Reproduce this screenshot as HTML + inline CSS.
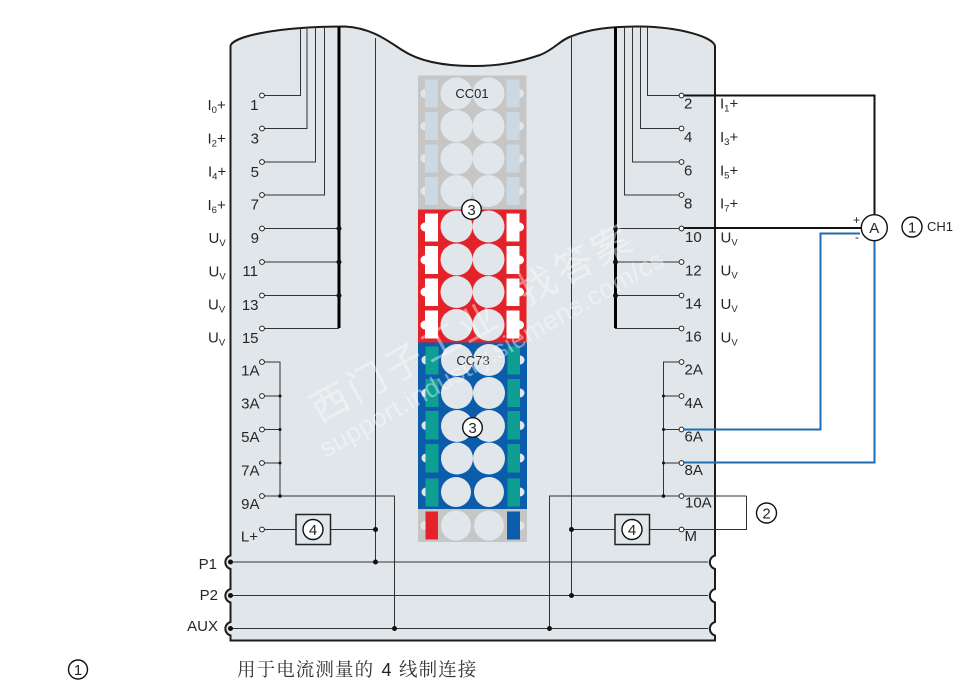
<!DOCTYPE html>
<html><head><meta charset="utf-8"><style>
html,body{margin:0;padding:0;background:#fff}
svg{display:block}
text{font-family:"Liberation Sans","Noto Sans CJK SC",sans-serif;fill:#262626;font-size:15px}
.s{font-size:9.5px}
</style></head><body>
<svg width="967" height="684" viewBox="0 0 967 684" xmlns="http://www.w3.org/2000/svg">
<!-- body -->
<path d="M230.5 46 C232 37 275 26.5 345 26.5 C372 28 388 41 402 50 C420 62 445 66 473 66 C505 66 525 60 540 55 C555 49 560 40 572 36 C590 29 610 26.5 640 26.5 C680 27 713 37 715 46 V555.5 A7 7 0 0 0 715 569 V589 A7 7 0 0 0 715 602.5 V622 A7 7 0 0 0 715 635.5 V640.5 H230.5 V635.5 A7 7 0 0 1 230.5 622 V602.5 A7 7 0 0 1 230.5 589 V569 A7 7 0 0 1 230.5 555.5 Z" fill="#e0e6ea" stroke="#1c1c1c" stroke-width="2"/>

<!-- center module -->
<rect x="418" y="75.5" width="108.500" height="134" fill="#c6c6c6"/>
<rect x="418" y="209.500" width="108.500" height="133" fill="#e3222a"/>
<rect x="418" y="342.500" width="109" height="166.500" fill="#0b5cab"/>
<rect x="418" y="509" width="109" height="33" fill="#c6c6c6"/>
<g fill="#e0e6ea">
<circle cx="425" cy="93.500" r="4.500"/><circle cx="425" cy="126" r="4.500"/><circle cx="425" cy="158.500" r="4.500"/><circle cx="425" cy="191" r="4.500"/>
<circle cx="519.500" cy="93.500" r="4.500"/><circle cx="519.500" cy="126" r="4.500"/><circle cx="519.500" cy="158.500" r="4.500"/><circle cx="519.500" cy="191" r="4.500"/>
<circle cx="425" cy="525.500" r="4.500"/><circle cx="520" cy="525.500" r="4.500"/>
<circle cx="426" cy="360" r="4.500"/><circle cx="426" cy="393" r="4.500"/><circle cx="426" cy="425.500" r="4.500"/><circle cx="426" cy="458" r="4.500"/><circle cx="426" cy="492" r="4.500"/>
<circle cx="520" cy="360" r="4.500"/><circle cx="520" cy="393" r="4.500"/><circle cx="520" cy="425.500" r="4.500"/><circle cx="520" cy="458" r="4.500"/><circle cx="520" cy="492" r="4.500"/>
</g>
<g fill="#fff">
<circle cx="425" cy="227" r="4.500"/><circle cx="425" cy="260" r="4.500"/><circle cx="425" cy="292" r="4.500"/><circle cx="425" cy="325" r="4.500"/>
<circle cx="519.500" cy="227" r="4.500"/><circle cx="519.500" cy="260" r="4.500"/><circle cx="519.500" cy="292" r="4.500"/><circle cx="519.500" cy="325" r="4.500"/>
</g>
<g fill="#ccd8e2">
<rect x="425" y="79.500" width="13" height="28"/><rect x="425" y="112" width="13" height="28"/><rect x="425" y="144.500" width="13" height="28"/><rect x="425" y="177" width="13" height="28"/>
<rect x="506.500" y="79.500" width="13" height="28"/><rect x="506.500" y="112" width="13" height="28"/><rect x="506.500" y="144.500" width="13" height="28"/><rect x="506.500" y="177" width="13" height="28"/>
</g>
<g fill="#fff">
<rect x="425" y="213.500" width="13" height="28"/><rect x="425" y="246" width="13" height="28"/><rect x="425" y="278.500" width="13" height="27.500"/><rect x="425" y="310.500" width="13" height="28"/>
<rect x="506.500" y="213.500" width="13" height="28"/><rect x="506.500" y="246" width="13" height="28"/><rect x="506.500" y="278.500" width="13" height="27.500"/><rect x="506.500" y="310.500" width="13" height="28"/>
</g>
<g fill="#0f9e94">
<rect x="425.500" y="346.500" width="13" height="28"/><rect x="425.500" y="379" width="13" height="28"/><rect x="425.500" y="411" width="13" height="28.500"/><rect x="425.500" y="444" width="13" height="28.500"/><rect x="425.500" y="478.500" width="13" height="28"/>
<rect x="507.500" y="346.500" width="12.500" height="28"/><rect x="507.500" y="379" width="12.500" height="28"/><rect x="507.500" y="411" width="12.500" height="28.500"/><rect x="507.500" y="444" width="12.500" height="28.500"/><rect x="507.500" y="478.500" width="12.500" height="28"/>
</g>
<rect x="425.500" y="511.500" width="12.500" height="28" fill="#e3222a"/>
<rect x="507" y="511.500" width="13" height="28" fill="#0b5cab"/>
<g fill="#e0e6ea">
<circle cx="456.500" cy="93.500" r="16"/><circle cx="488.500" cy="93.500" r="16"/><circle cx="456.500" cy="126" r="16"/><circle cx="488.500" cy="126" r="16"/><circle cx="456.500" cy="158.500" r="16"/><circle cx="488.500" cy="158.500" r="16"/><circle cx="456.500" cy="191" r="16"/><circle cx="488.500" cy="191" r="16"/>
<circle cx="456.500" cy="226.500" r="16"/><circle cx="488.500" cy="226.500" r="16"/><circle cx="456.500" cy="259.500" r="16"/><circle cx="488.500" cy="259.500" r="16"/><circle cx="456.500" cy="292" r="16"/><circle cx="488.500" cy="292" r="16"/><circle cx="456.500" cy="325" r="16"/><circle cx="488.500" cy="325" r="16"/>
<circle cx="457" cy="360" r="16"/><circle cx="489" cy="360" r="16"/><circle cx="457" cy="393" r="16"/><circle cx="489" cy="393" r="16"/><circle cx="457" cy="426" r="16"/><circle cx="489" cy="426" r="16"/><circle cx="457" cy="458.500" r="16"/><circle cx="489" cy="458.500" r="16"/>
<circle cx="456" cy="492" r="15"/><circle cx="489" cy="492" r="15"/><circle cx="456" cy="525.500" r="15"/><circle cx="489" cy="525.500" r="15"/>
</g>
<text x="472" y="98" text-anchor="middle" style="font-size:13px">CC01</text>
<text x="473" y="365" text-anchor="middle" style="font-size:13px">CC73</text>

<!-- internal wires -->
<g fill="none" stroke="#333" stroke-width="1">
<path d="M375.500 38 V562"/>
<path d="M571.500 36 V595"/>
<path d="M262 95.500 H300.500 V27"/>
<path d="M262 128.500 H307 V27"/>
<path d="M262 162 H315.500 V27"/>
<path d="M262 195 H324.500 V27"/>
<path d="M262 228.500 H339"/><path d="M262 262 H339"/><path d="M262 295.500 H339"/><path d="M262 328.500 H339"/>
<path d="M681.500 95.500 H647.500 V27"/>
<path d="M681.500 128.500 H640.500 V27"/>
<path d="M681.500 162 H632.500 V27"/>
<path d="M681.500 195 H624.500 V27"/>
<path d="M681.500 228.500 H615"/><path d="M681.500 262 H615"/><path d="M681.500 295.500 H615"/><path d="M681.500 328.500 H615"/>
<path d="M262 362 H280 V496"/><path d="M262 396 H280"/><path d="M262 429.500 H280"/><path d="M262 463 H280"/>
<path d="M262 496 H394.500 V628.500"/>
<path d="M681.500 362 H663.500 V496"/><path d="M681.500 396 H663.500"/><path d="M681.500 429.500 H663.500"/><path d="M681.500 463 H663.500"/>
<path d="M746.500 496 H549.500 V628.500"/>
<path d="M746.500 496 V529.500 H650"/>
<path d="M262 529.500 H296"/><path d="M331 529.500 H375.500"/>
<path d="M571.500 529.500 H615"/>
<path d="M230.500 562 H708"/><path d="M230.500 595.500 H708"/><path d="M230.500 628.500 H708"/>
</g>
<path d="M339 27 V328" stroke="#000" stroke-width="3" fill="none"/>
<path d="M615.500 27 V328" stroke="#000" stroke-width="3" fill="none"/>
<!-- dots -->
<g fill="#111">
<circle cx="339" cy="228.500" r="2.500"/><circle cx="339" cy="262" r="2.500"/><circle cx="339" cy="295.500" r="2.500"/>
<circle cx="615.500" cy="228.500" r="2.500"/><circle cx="615.500" cy="262" r="2.500"/><circle cx="615.500" cy="295.500" r="2.500"/>
<circle cx="280" cy="396" r="1.500"/><circle cx="280" cy="429.500" r="1.500"/><circle cx="280" cy="463" r="1.500"/><circle cx="280" cy="496" r="1.800"/>
<circle cx="663.500" cy="396" r="1.500"/><circle cx="663.500" cy="429.500" r="1.500"/><circle cx="663.500" cy="463" r="1.500"/><circle cx="663.500" cy="496" r="1.800"/>
<circle cx="375.500" cy="529.500" r="2.500"/><circle cx="375.500" cy="562" r="2.500"/><circle cx="394.500" cy="628.500" r="2.500"/>
<circle cx="571.500" cy="529.500" r="2.500"/><circle cx="571.500" cy="595.500" r="2.500"/><circle cx="549.500" cy="628.500" r="2.500"/>
<circle cx="230.500" cy="562" r="2.500"/><circle cx="230.500" cy="595.500" r="2.500"/><circle cx="230.500" cy="628.500" r="2.500"/>
</g>

<!-- boxes -->
<rect x="296" y="514.500" width="34.500" height="30" fill="#e0e6ea" stroke="#222" stroke-width="1.500"/>
<rect x="615" y="514.500" width="34.500" height="30" fill="#e0e6ea" stroke="#222" stroke-width="1.500"/>

<!-- external wires -->
<path d="M681.500 95.500 H874.500 V215" fill="none" stroke="#111" stroke-width="2"/>
<path d="M681.500 228 H862" fill="none" stroke="#111" stroke-width="2"/>
<path d="M860 233.500 H820.500 V429.500 H683" fill="none" stroke="#1f6db3" stroke-width="2"/>
<path d="M874.500 240 V462.500 H683" fill="none" stroke="#1f6db3" stroke-width="2"/>

<!-- terminals -->
<g fill="#fff" stroke="#222" stroke-width="1">
<circle cx="262" cy="95.500" r="2.400"/><circle cx="262" cy="128.500" r="2.400"/><circle cx="262" cy="162" r="2.400"/><circle cx="262" cy="195" r="2.400"/><circle cx="262" cy="228.500" r="2.400"/><circle cx="262" cy="262" r="2.400"/><circle cx="262" cy="295.500" r="2.400"/><circle cx="262" cy="328.500" r="2.400"/>
<circle cx="262" cy="362" r="2.400"/><circle cx="262" cy="396" r="2.400"/><circle cx="262" cy="429.500" r="2.400"/><circle cx="262" cy="463" r="2.400"/><circle cx="262" cy="496" r="2.400"/><circle cx="262" cy="529.500" r="2.400"/>
<circle cx="681.500" cy="95.500" r="2.400"/><circle cx="681.500" cy="128.500" r="2.400"/><circle cx="681.500" cy="162" r="2.400"/><circle cx="681.500" cy="195" r="2.400"/><circle cx="681.500" cy="228.500" r="2.400"/><circle cx="681.500" cy="262" r="2.400"/><circle cx="681.500" cy="295.500" r="2.400"/><circle cx="681.500" cy="328.500" r="2.400"/>
<circle cx="681.500" cy="362" r="2.400"/><circle cx="681.500" cy="396" r="2.400"/><circle cx="681.500" cy="429.500" r="2.400"/><circle cx="681.500" cy="463" r="2.400"/><circle cx="681.500" cy="496" r="2.400"/><circle cx="681.500" cy="529.500" r="2.400"/>
</g>

<!-- numbered circles -->
<g fill="#fff" stroke="#111" stroke-width="1.400">
<circle cx="471.500" cy="209.500" r="9.800"/><circle cx="472.500" cy="427.500" r="9.800"/>
<circle cx="313" cy="529.500" r="10"/><circle cx="632" cy="529.500" r="10"/>
<circle cx="766.500" cy="513" r="10"/><circle cx="912" cy="227" r="10"/>
<circle cx="874.300" cy="227.700" r="13"/><circle cx="78" cy="669.500" r="9.500"/>
</g>
<g text-anchor="middle">
<text x="471.500" y="215">3</text><text x="472.500" y="433">3</text>
<text x="313" y="535">4</text><text x="632" y="535">4</text>
<text x="766.500" y="518.500">2</text><text x="912" y="232.500">1</text>
<text x="874.300" y="233">A</text><text x="78" y="675">1</text>
</g>
<text x="927" y="231" style="font-size:13px">CH1</text>
<text x="853" y="224" style="font-size:12px">+</text>
<text x="855" y="241" style="font-size:12px">-</text>

<!-- left numbers -->
<g text-anchor="end">
<text x="258.500" y="110">1</text><text x="259" y="143.500">3</text><text x="259" y="177">5</text><text x="259" y="209.500">7</text>
<text x="259" y="243">9</text><text x="258" y="276">11</text><text x="258.500" y="310">13</text><text x="258.500" y="343">15</text>
<text x="259.500" y="375.500">1A</text><text x="259.500" y="408.500">3A</text><text x="259.500" y="442">5A</text><text x="259.500" y="475.500">7A</text><text x="259.500" y="509">9A</text>
<text x="258" y="541.500">L+</text>
<text x="217" y="569">P1</text><text x="218" y="600">P2</text><text x="218" y="631">AUX</text>
</g>
<!-- right numbers -->
<text x="684" y="108.500">2</text><text x="684" y="142">4</text><text x="684" y="175.500">6</text><text x="684" y="208.500">8</text>
<text x="685" y="242">10</text><text x="685" y="275.500">12</text><text x="685" y="308.500">14</text><text x="685" y="341.500">16</text>
<text x="684.500" y="374.500">2A</text><text x="684.500" y="408">4A</text><text x="684.500" y="441.500">6A</text><text x="684.500" y="475">8A</text><text x="685" y="507.500">10A</text><text x="684.500" y="541">M</text>

<!-- left signal labels -->
<text x="207.500" y="110">I<tspan class="s" dy="3">0</tspan><tspan dy="-3">+</tspan></text>
<text x="207.500" y="143.500">I<tspan class="s" dy="3">2</tspan><tspan dy="-3">+</tspan></text>
<text x="208" y="176.500">I<tspan class="s" dy="3">4</tspan><tspan dy="-3">+</tspan></text>
<text x="207.500" y="210">I<tspan class="s" dy="3">6</tspan><tspan dy="-3">+</tspan></text>
<text x="208.500" y="243">U<tspan class="s" dy="3">V</tspan></text>
<text x="208.500" y="276.500">U<tspan class="s" dy="3">V</tspan></text>
<text x="208" y="309.500">U<tspan class="s" dy="3">V</tspan></text>
<text x="208" y="342.500">U<tspan class="s" dy="3">V</tspan></text>
<!-- right signal labels -->
<text x="720" y="108.500">I<tspan class="s" dy="3">1</tspan><tspan dy="-3">+</tspan></text>
<text x="720" y="142">I<tspan class="s" dy="3">3</tspan><tspan dy="-3">+</tspan></text>
<text x="720" y="175.500">I<tspan class="s" dy="3">5</tspan><tspan dy="-3">+</tspan></text>
<text x="720" y="208.500">I<tspan class="s" dy="3">7</tspan><tspan dy="-3">+</tspan></text>
<text x="720.500" y="242.500">U<tspan class="s" dy="3">V</tspan></text>
<text x="720.500" y="275.500">U<tspan class="s" dy="3">V</tspan></text>
<text x="720.500" y="309">U<tspan class="s" dy="3">V</tspan></text>
<text x="720.500" y="342.500">U<tspan class="s" dy="3">V</tspan></text>

<!-- watermark -->
<g opacity="0.42">
<text transform="translate(319.500 423.500) rotate(-28.500)" style="font-size:38px;fill:#fff;letter-spacing:4px">西门子工业</text>
<text transform="translate(527 306) rotate(-28.500)" style="font-size:38px;fill:#fff;letter-spacing:4px">找答案</text>
<text transform="translate(326 458) rotate(-29.600)" textLength="391" style="font-size:26px;fill:#fff">support.industry.siemens.com/cs</text>
</g>

<!-- footer -->
<text x="237" y="676" style="font-family:'Noto Serif CJK SC','Noto Sans CJK SC',serif;font-size:18.500px;letter-spacing:1.100px;fill:#333">用于电流测量的</text>
<text x="381.500" y="676" style="font-size:18px;fill:#222">4</text>
<text x="399" y="676" style="font-family:'Noto Serif CJK SC','Noto Sans CJK SC',serif;font-size:18.500px;letter-spacing:1.100px;fill:#333">线制连接</text>
</svg>
</body></html>
